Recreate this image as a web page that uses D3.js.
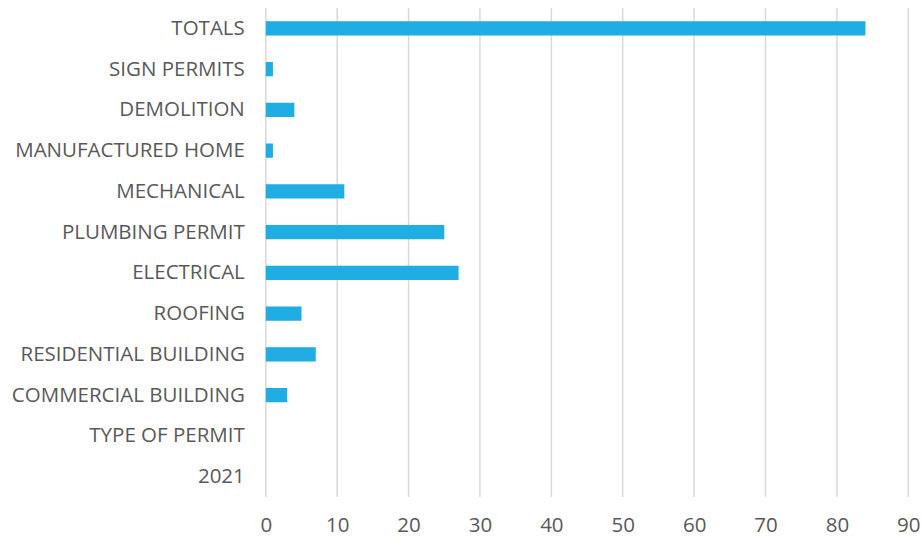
<!DOCTYPE html>
<html><head><meta charset="utf-8">
<script src="https://cdn.jsdelivr.net/npm/d3@7"></script>
<style>body{margin:0;background:#fff}svg{display:block}</style>
</head><body>
<svg id="c" width="922" height="537"></svg>
<script>
const categories = ["TOTALS","SIGN PERMITS","DEMOLITION","MANUFACTURED HOME","MECHANICAL","PLUMBING PERMIT","ELECTRICAL","ROOFING","RESIDENTIAL BUILDING","COMMERCIAL BUILDING","TYPE OF PERMIT","2021"];
const values = [84,1,4,1,11,25,27,5,7,3,null,null];
const xTicks = [0,10,20,30,40,50,60,70,80,90];

const svg = d3.select("#c");
const W = 922, H = 537;
const m = {top:8, bottom:40};
const x = d3.scaleLinear().domain([0,90]).range([265.8, 908.3]);
const y = d3.scaleBand().domain(categories).range([m.top, H - m.bottom]).paddingInner(0.65).paddingOuter(0.325);
const font = "'Open Sans', sans-serif";
const fs = 20.5;

svg.append("g").selectAll("line").data(xTicks).join("line")
  .attr("x1", d => x(d)).attr("x2", d => x(d))
  .attr("y1", m.top).attr("y2", H - m.bottom)
  .attr("stroke", "#d9d9d9").attr("stroke-width", 1.5);

svg.append("g").selectAll("rect").data(categories.map((c,i)=>({c,v:values[i]})).filter(d=>d.v!=null)).join("rect")
  .attr("x", x(0)).attr("y", d => y(d.c))
  .attr("width", d => x(d.v) - x(0)).attr("height", y.bandwidth())
  .attr("fill", "#1fade4");

const xa = svg.append("g").attr("transform", `translate(0,${H - m.bottom})`)
  .call(d3.axisBottom(x).tickValues(xTicks).tickSize(0).tickPadding(20));
xa.select(".domain").remove();
xa.selectAll("text").attr("font-family", font).attr("font-size", fs).attr("fill", "#595959");

const ya = svg.append("g").attr("transform", `translate(${x(0)},0)`)
  .call(d3.axisLeft(y).tickSize(0).tickPadding(21));
ya.select(".domain").remove();
ya.selectAll("text").attr("font-family", font).attr("font-size", fs).attr("fill", "#595959");
</script>
</body></html>
